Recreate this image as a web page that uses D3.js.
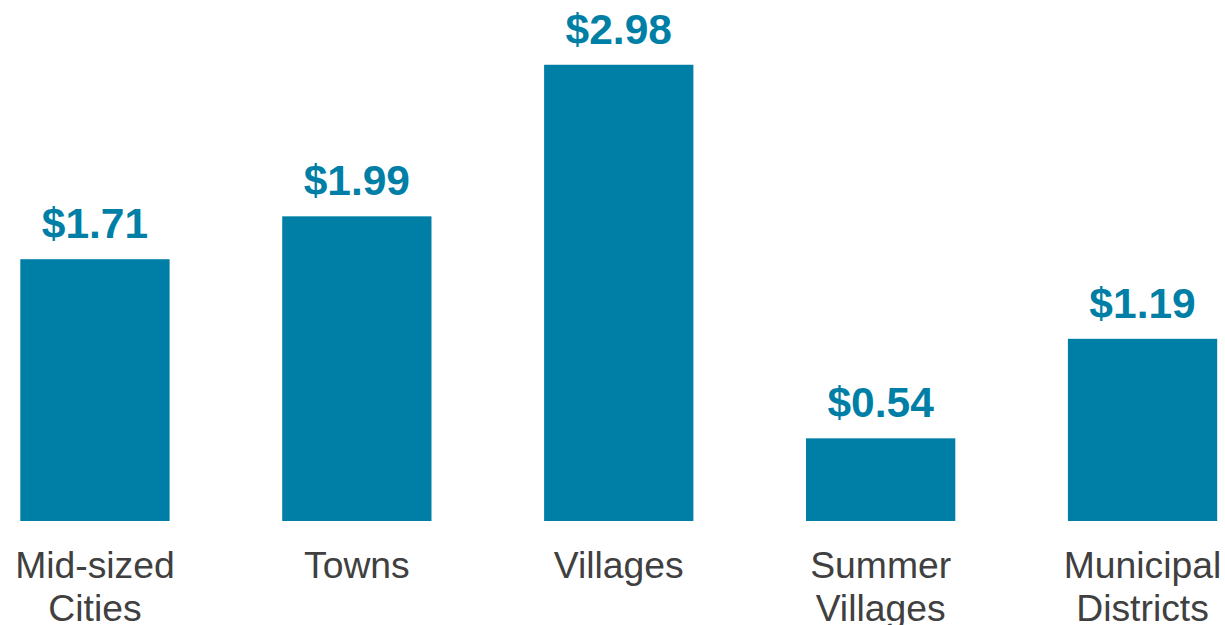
<!DOCTYPE html>
<html>
<head>
<meta charset="utf-8">
<script src="https://cdn.jsdelivr.net/npm/d3@7"></script>
<style>
  html, body { margin: 0; padding: 0; background: #fff; }
  svg { display: block; }
</style>
</head>
<body>
<div id="chart"></div>
<script>
// category names (split into lines) and values in dollars
const categories = ["Mid-sized Cities", "Towns", "Villages", "Summer Villages", "Municipal Districts"];
const categoryLines = [["Mid-sized", "Cities"], ["Towns"], ["Villages"], ["Summer", "Villages"], ["Municipal", "Districts"]];
const values = [1.71, 1.99, 2.98, 0.54, 1.19];

const width = 1225, height = 625;
const barColor = "#007fa6";

let svg = d3.select("#chart").append("svg")
    .attr("width", width)
    .attr("height", height);

let x = d3.scaleBand()
    .domain(categories)
    .range([-36, 1273.5])
    .paddingInner(0.43)
    .paddingOuter(0.215);

let y = d3.scaleLinear()
    .domain([0, 3])
    .range([521, 61.7]);

let data = categories.map((c, i) => ({ name: c, lines: categoryLines[i], value: values[i] }));

// bars
svg.selectAll(".bar")
    .data(data)
    .enter().append("rect")
    .attr("class", "bar")
    .attr("x", d => x(d.name))
    .attr("y", d => y(d.value))
    .attr("width", x.bandwidth())
    .attr("height", d => y(0) - y(d.value))
    .attr("fill", barColor);

// value labels
svg.selectAll(".value")
    .data(data)
    .enter().append("text")
    .attr("class", "value")
    .attr("x", d => x(d.name) + x.bandwidth() / 2)
    .attr("y", d => y(d.value) - 21)
    .attr("text-anchor", "middle")
    .attr("font-family", "Liberation Sans, Arial, sans-serif")
    .attr("font-weight", "bold")
    .attr("font-size", 42.5)
    .attr("fill", barColor)
    .text(d => "$" + d.value.toFixed(2));

// category labels (second line is clipped by the bottom edge, as in the source)
let cat = svg.selectAll(".cat")
    .data(data)
    .enter().append("text")
    .attr("class", "cat")
    .attr("x", d => x(d.name) + x.bandwidth() / 2)
    .attr("y", 578)
    .attr("text-anchor", "middle")
    .attr("font-family", "Liberation Sans, Arial, sans-serif")
    .attr("font-size", 37.3)
    .attr("fill", "#404040");

cat.selectAll("tspan")
    .data(d => d.lines.map(l => ({ l, cx: x(d.name) + x.bandwidth() / 2 })))
    .enter().append("tspan")
    .attr("x", t => t.cx)
    .attr("dy", (t, i) => i === 0 ? 0 : 43)
    .text(t => t.l);
</script>
</body>
</html>
